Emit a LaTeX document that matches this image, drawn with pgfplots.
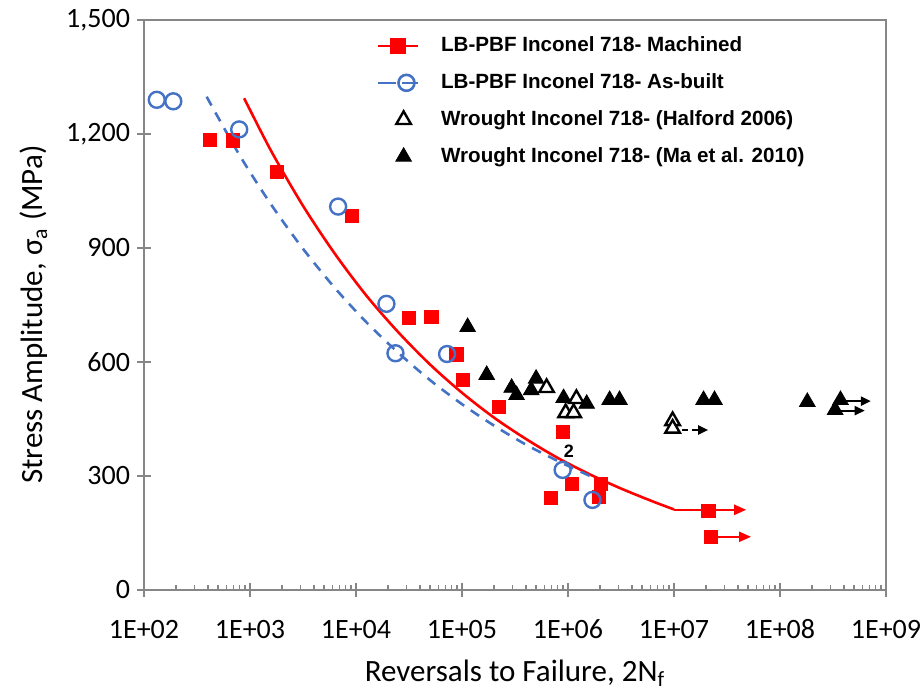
\documentclass[border=0pt]{standalone}
\usepackage{fontspec}
\setmainfont{Carlito}
\newfontfamily\arialfont{Liberation Sans}
\usepackage{pgfplots}
\pgfplotsset{compat=1.18}
\usetikzlibrary{arrows.meta,calc}
\definecolor{exred}{RGB}{255,0,0}
\definecolor{exblue}{RGB}{68,114,196}
\definecolor{axgray}{RGB}{134,134,134}
\pgfplotsset{
  legred/.style={legend image code/.code={\draw[mark repeat=2,mark phase=2,##1] plot coordinates {(0cm,0cm)(0.35cm,0cm)(0.7cm,0cm)};}},
  legblue/.style={legend image code/.code={\draw[mark repeat=2,mark phase=2,##1] plot coordinates {(0cm,0cm)(0.5cm,0cm)(0.7cm,0cm)};}},
  legmark/.style={legend image code/.code={\path (0cm,0cm) (0.7cm,0cm); \draw[##1] plot coordinates {(0.45cm,0cm)};}},
}
\begin{document}
\begin{tikzpicture}
\begin{axis}[
  scale only axis, width=371pt, height=285pt,
  xmode=log, xmin=1e2, xmax=1e9, ymin=0, ymax=1500,
  xtick={1e2,1e3,1e4,1e5,1e6,1e7,1e8,1e9},
  xticklabels={1E+02,1E+03,1E+04,1E+05,1E+06,1E+07,1E+08,1E+09},
  ytick={0,300,600,900,1200,1500},
  yticklabels={0,300,600,900,{1,200},{1,500}},
  tick pos=left, tick align=center,
  major tick length=7pt, minor tick length=2.5pt,
  minor tick style={yshift=1.25pt},
  axis line style={axgray, line width=0.8pt},
  tick style={axgray, line width=0.7pt},
  /pgf/number format/assume math mode=true,
  tick label style={font=\fontsize{14}{16}\selectfont, black},
  xticklabel style={anchor=base, yshift=-21pt},
  label style={font=\fontsize{15.5}{18}\selectfont},
  xlabel={Reversals to Failure, 2N\textsubscript{f}},
  ylabel={Stress Amplitude, σ\textsubscript{a} (MPa)},
  xlabel style={at={(axis description cs:0.5,-0.161)}, anchor=base},
  ylabel style={at={(axis description cs:-0.12,0.483)}, anchor=south},
  legend style={at={(axis description cs:0.305,0.985)}, anchor=north west,
    draw=none, fill=none, font=\arialfont\bfseries\fontsize{10.3}{12}\selectfont,
    row sep=5.5pt, /tikz/every odd column/.append style={column sep=9pt}},
  legend cell align=left,
]
\addlegendimage{exred, line width=1.3pt, mark=square*, mark size=3.3pt, legred}
\addlegendentry{LB-PBF Inconel 718- Machined}
\addlegendimage{exblue, line width=1.3pt, dash pattern=on 9pt off 3pt, mark=o, mark size=4pt, mark options={solid}, legblue}
\addlegendentry{LB-PBF Inconel 718- As-built}
\addlegendimage{only marks, mark=triangle*, mark size=4.2pt, mark options={fill=white, draw=black, line width=1.2pt}, legmark}
\addlegendentry{Wrought Inconel 718- (Halford 2006)}
\addlegendimage{only marks, mark=triangle*, mark size=4.5pt, black, legmark}
\addlegendentry{Wrought Inconel 718- (Ma et al. 2010)}

% fitted curves
\addplot[forget plot, exred, line width=1.3pt, smooth] coordinates {
 (881,1294) (1585,1155) (3162,1011) (6310,885) (12589,774) (25119,678)
 (50119,593) (100000,519) (199526,454) (398107,398) (794328,348)
 (1584893,305) (3162278,267) (6309573,233) (1e7,212)};
\addplot[forget plot, exred, line width=1.1pt, -{Triangle[length=6pt,width=5pt]}] coordinates {(1e7,211) (4.8e7,211)};
\addplot[forget plot, exred, line width=1.1pt, -{Triangle[length=6pt,width=5pt]}] coordinates {(2.11e7,140) (5.33e7,140)};
\addplot[forget plot, exblue, line width=1.3pt, dash pattern=on 5pt off 4pt, smooth] coordinates {
 (390,1298) (794,1145) (1585,1014) (3162,898) (6310,795) (12589,704)
 (25119,624) (50119,552) (100000,489) (199526,433) (398107,383)
 (794328,340) (1584893,301) (2296000,282)};
% runout arrows, wrought
\addplot[forget plot, black, line width=1pt, -{Triangle[length=5pt,width=4.5pt]}] coordinates {(4.2e8,497) (7.2e8,497)};
\addplot[forget plot, black, line width=1pt, -{Triangle[length=5pt,width=4.5pt]}] coordinates {(3.6e8,472) (6.3e8,472)};
\addplot[forget plot, black, line width=1pt, dash pattern=on 3pt off 2pt, -{Triangle[length=5pt,width=4.5pt]}] coordinates {(1.2e7,421) (2.1e7,421)};

% LB-PBF machined
\addplot[forget plot, only marks, mark=square*, mark size=3.3pt, exred] coordinates {
 (419,1184) (695,1183) (1803,1101) (9180,984) (31600,715) (51500,719)
 (88500,620) (102000,553) (222000,482) (889000,416) (1.08e6,279)
 (686000,242) (2.03e6,279) (1.95e6,245) (2.11e7,209) (2.21e7,140)};
% LB-PBF as-built
\addplot[forget plot, only marks, mark=o, mark size=4pt, exblue, line width=1.2pt] coordinates {
 (132,1290) (189,1286) (791,1212) (6780,1009) (19360,753) (23560,623)
 (72300,621) (890000,316) (1.7e6,237)};
% Ma et al. 2010
\addplot[forget plot, only marks, mark=triangle*, mark size=4.5pt, black] coordinates {
 (113000,692) (171000,566) (294000,532) (327000,513) (500000,556) (450000,526)
 (908000,505) (1.5e6,490) (2.47e6,500) (3.06e6,500) (1.9e7,500) (2.41e7,500)
 (1.81e8,495) (3.72e8,500) (3.31e8,474)};
% Halford 2006
\addplot[forget plot, only marks, mark=triangle*, mark size=4.2pt, mark options={fill=white, draw=black, line width=1.2pt}] coordinates {
 (628000,532) (1.2e6,503) (950000,466) (1.13e6,466) (9.7e6,445) (9.7e6,425)};

\node[font=\arialfont\bfseries\fontsize{9}{10}\selectfont] at (axis cs:1.02e6,365) {2};
\end{axis}
\pgfresetboundingbox
\path[use as bounding box] ($(current axis.south west)+(-72pt,-51.5pt)$) rectangle ($(current axis.north east)+(19pt,10pt)$);
\end{tikzpicture}
\end{document}
